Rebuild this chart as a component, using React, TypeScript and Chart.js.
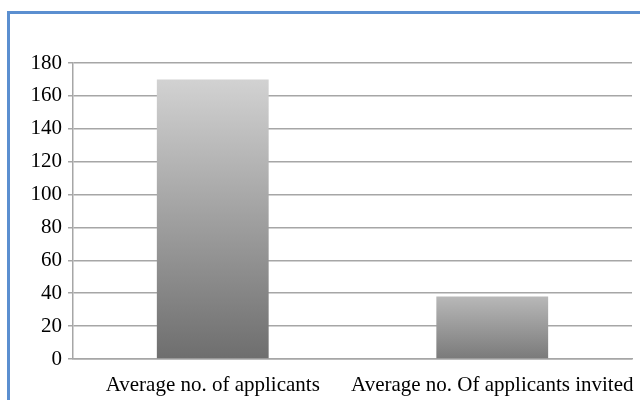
import React, { useEffect, useRef } from "react";
import { Chart, registerables } from "chart.js";

Chart.register(...registerables);

const categories = ["Average no. of applicants", "Average no. Of applicants invited"];
const values = [170, 38];
const topColors = ["#d2d2d2", "#b8b8b8"];
const bottomColors = ["#6e6e6e", "#7a7a7a"];
const yMax = 180;
const yStep = 20;

export default function App() {
  const ref = useRef<HTMLCanvasElement | null>(null);
  useEffect(() => {
    if (!ref.current) return;
    const chart = new Chart(ref.current, {
      type: "bar",
      data: {
        labels: categories,
        datasets: [
          {
            data: values,
            backgroundColor: (ctx: any) => {
              const c = ctx.chart;
              const area = c.chartArea;
              const i = ctx.dataIndex;
              if (!area || i === undefined) return topColors[0];
              const ys = c.scales.y;
              const top = ys.getPixelForValue(values[i]);
              const bot = ys.getPixelForValue(0);
              const g = c.ctx.createLinearGradient(0, top, 0, bot);
              g.addColorStop(0, topColors[i]);
              g.addColorStop(1, bottomColors[i]);
              return g;
            },
            borderWidth: 0,
            barPercentage: 0.8,
            categoryPercentage: 0.5,
          },
        ],
      },
      options: {
        responsive: false,
        animation: false,
        layout: { padding: { left: 0, top: 63, right: 8, bottom: 0 } },
        plugins: { legend: { display: false }, tooltip: { enabled: false } },
        scales: {
          x: {
            grid: { display: false, drawTicks: false },
            border: { display: true, color: "#a6a6a6", width: 1.5 },
            ticks: {
              color: "#000",
              font: { family: "Liberation Serif", size: 21 },
              padding: 14,
              maxRotation: 0,
              autoSkip: false,
            },
            afterFit: (s: any) => {
              s.height = 41;
              s.paddingLeft = 0;
              s.paddingRight = 0;
            },
          },
          y: {
            min: 0,
            max: yMax,
            ticks: {
              stepSize: yStep,
              color: "#000",
              font: { family: "Liberation Serif", size: 21 },
              padding: 6,
            },
            grid: { color: "#a6a6a6", lineWidth: 1.5, tickLength: 5 },
            border: { display: true, color: "#a6a6a6", width: 1.5 },
            afterFit: (s: any) => {
              s.width = 73;
              s.paddingTop = 0;
              s.paddingBottom = 0;
            },
          },
        },
      },
    });
    return () => chart.destroy();
  }, []);
  return (
    <div style={{ position: "fixed", left: 0, top: 0, width: 640, height: 400, background: "#fff" }}>
      <canvas ref={ref} width={640} height={400} style={{ position: "absolute", left: 0, top: 0 }} />
      <div
        style={{
          position: "absolute",
          left: 7,
          top: 11,
          width: 640,
          height: 400,
          borderLeft: "3px solid #5b8fd0",
          borderTop: "3px solid #5b8fd0",
          pointerEvents: "none",
        }}
      />
    </div>
  );
}
